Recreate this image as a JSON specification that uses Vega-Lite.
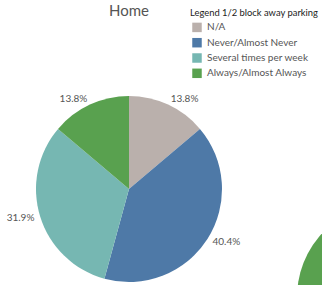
{
  "$schema": "https://vega.github.io/schema/vega-lite/v6.json",
  "background": "white",
  "padding": {"left": 6, "top": 4, "right": 0, "bottom": 0},
  "spacing": 20,
  "config": {
    "view": {"stroke": null},
    "font": "Lato",
    "title": {"fontSize": 15, "fontWeight": "normal", "color": "#555555", "font": "Lato", "anchor": "middle"}
  },
  "hconcat": [
    {
      "title": "Home",
      "width": 206,
      "height": 332,
      "data": {
        "values": [
          {"category": "N/A", "rank": 1, "share": 0.138},
          {"category": "Never/Almost Never", "rank": 2, "share": 0.404},
          {"category": "Several times per week", "rank": 3, "share": 0.319},
          {"category": "Always/Almost Always", "rank": 4, "share": 0.138}
        ]
      },
      "encoding": {
        "theta": {"field": "share", "type": "quantitative", "stack": true},
        "order": {"field": "rank", "type": "quantitative"},
        "color": {
          "field": "category",
          "type": "nominal",
          "scale": {
            "domain": ["N/A", "Never/Almost Never", "Several times per week", "Always/Almost Always"],
            "range": ["#bab0ac", "#4e79a7", "#76b7b2", "#59a14f"]
          },
          "legend": {
            "title": "Legend 1/2 block away parking",
            "orient": "none",
            "legendX": 164,
            "legendY": -14,
            "padding": 0,
            "titleFont": "Lato",
            "titleFontSize": 9.4,
            "titleFontWeight": "normal",
            "titleColor": "#222222",
            "titlePadding": 4,
            "labelFont": "Lato",
            "labelFontSize": 10,
            "labelColor": "#555555",
            "symbolType": "square",
            "symbolSize": 90,
            "symbolStrokeWidth": 0,
            "symbolOpacity": 1,
            "symbolOffset": 2,
            "rowPadding": 5.3,
            "labelOffset": 5,
            "titleLimit": 200,
            "labelLimit": 200
          }
        }
      },
      "layer": [
        {"mark": {"type": "arc", "outerRadius": 93}},
        {
          "mark": {
            "type": "text",
            "radius": 99,
            "fontSize": 10,
            "font": "Lato",
            "color": "#555555",
            "baseline": "middle",
            "align": {"expr": "datum.category == 'N/A' || datum.category == 'Never/Almost Never' ? 'left' : 'right'"}
          },
          "encoding": {
            "text": {"field": "share", "type": "quantitative", "format": ".1%"},
            "color": {"value": "#555555"}
          }
        }
      ]
    },
    {
      "width": 258,
      "height": 548,
      "data": {
        "values": [
          {"category": "N/A", "rank": 1, "share": 0.103},
          {"category": "Never/Almost Never", "rank": 2, "share": 0.345},
          {"category": "Several times per week", "rank": 3, "share": 0.276},
          {"category": "Always/Almost Always", "rank": 4, "share": 0.276}
        ]
      },
      "mark": {"type": "arc", "outerRadius": 93},
      "encoding": {
        "theta": {"field": "share", "type": "quantitative", "stack": true},
        "order": {"field": "rank", "type": "quantitative"},
        "color": {"field": "category", "type": "nominal"}
      }
    }
  ]
}
